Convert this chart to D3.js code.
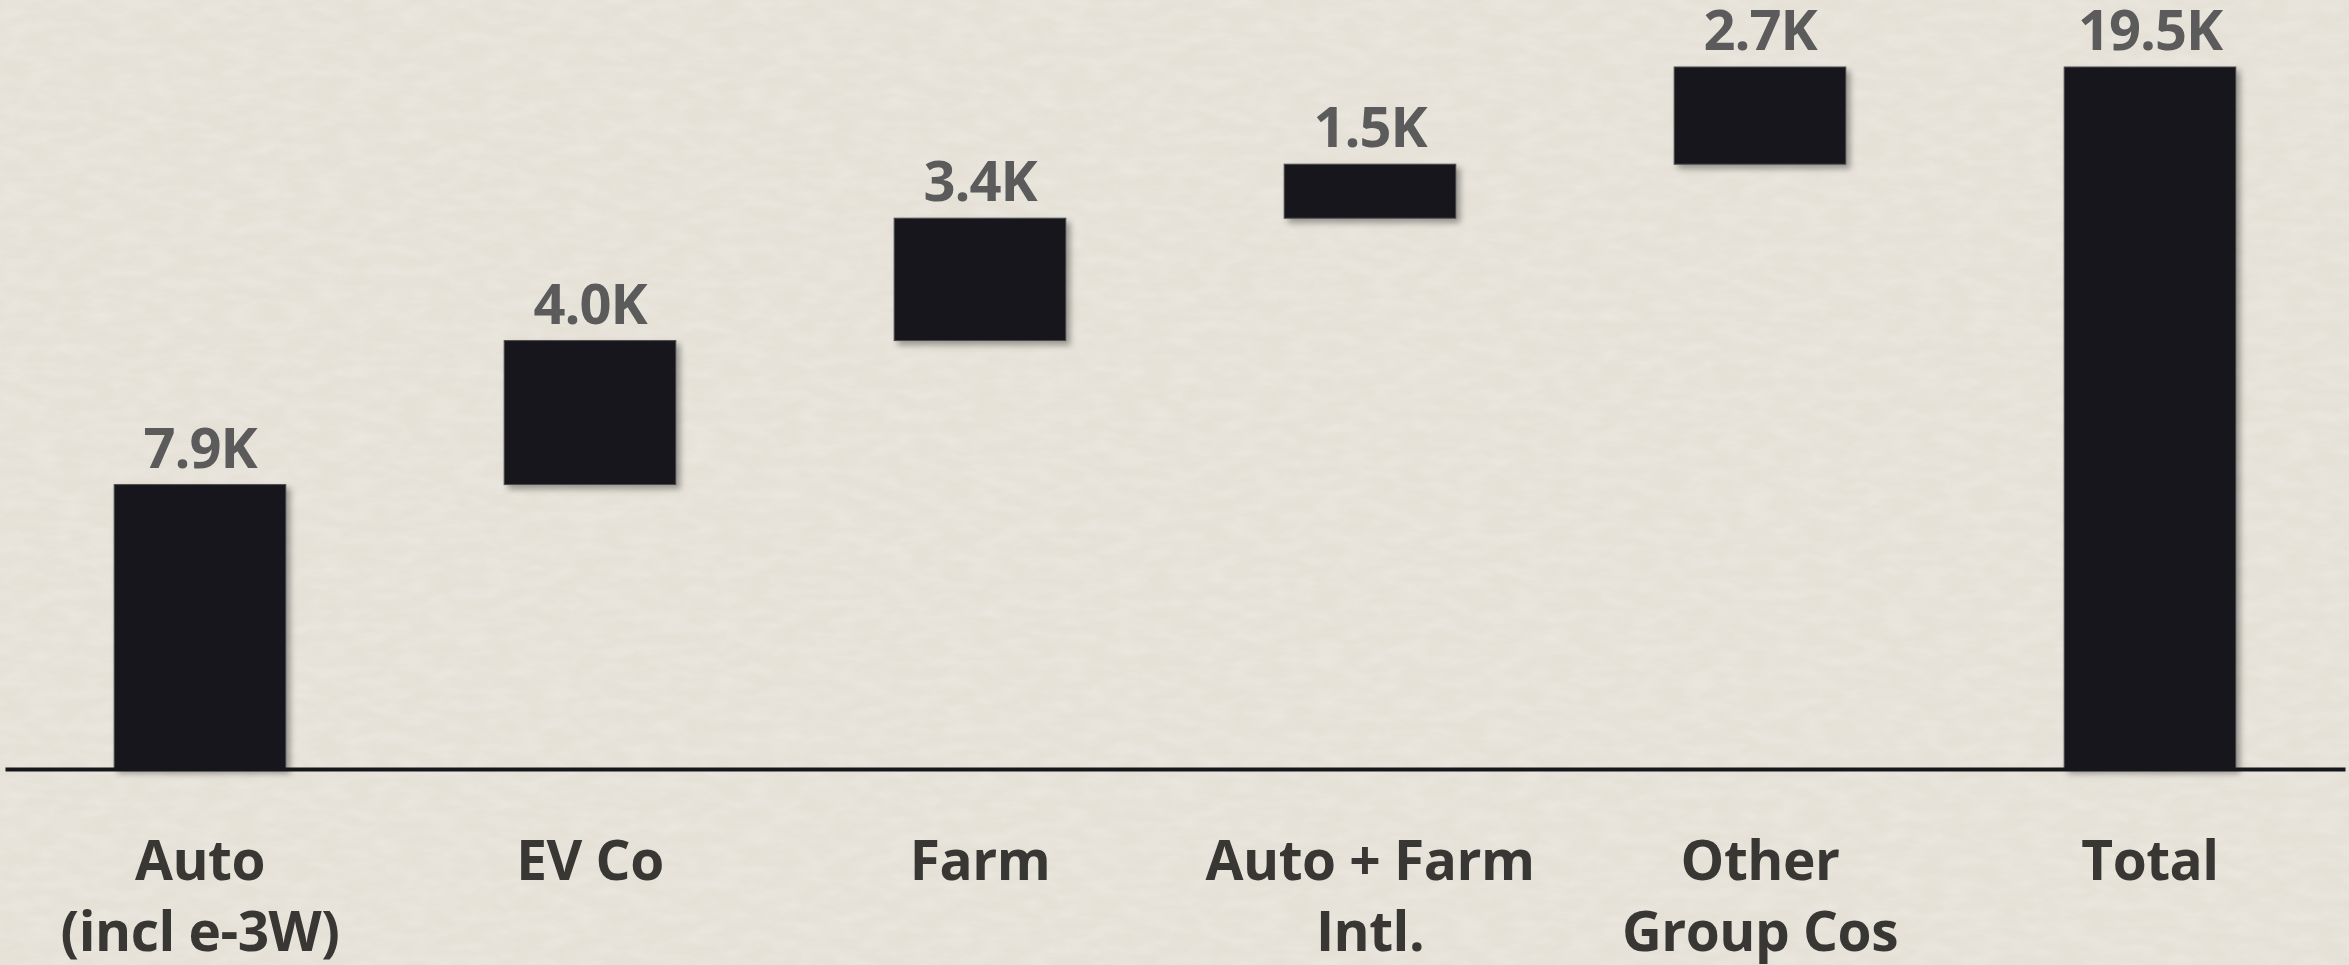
<!DOCTYPE html>
<html>
<head>
<meta charset="utf-8">
<script src="https://cdn.jsdelivr.net/npm/d3@7"></script>
<style>
  html, body { margin: 0; padding: 0; background: #e5e1d7; overflow: hidden; }
</style>
</head>
<body>
<div id="chart"></div>
<script>
// Waterfall data (thousands)
const categories = ["Auto\n(incl e-3W)", "EV Co", "Farm", "Auto + Farm\nIntl.", "Other\nGroup Cos", "Total"];
const values = [7.9, 4.0, 3.4, 1.5, 2.7, 19.5];
const isTotal = [false, false, false, false, false, true];
const valueLabels = ["7.9K", "4.0K", "3.4K", "1.5K", "2.7K", "19.5K"];

const width = 2349, height = 965;

// running start/end for each step
let run = 0;
const data = categories.map((c, i) => {
  let y0, y1;
  if (isTotal[i]) { y0 = 0; y1 = values[i]; }
  else { y0 = run; y1 = run + values[i]; run = y1; }
  return { cat: c, y0, y1, label: valueLabels[i] };
});

const svg = d3.select("#chart")
  .append("svg")
  .attr("width", width)
  .attr("height", height);

const defs = svg.append("defs");

// paper texture
const paper = defs.append("filter").attr("id", "paper")
  .attr("x", 0).attr("y", 0).attr("width", "100%").attr("height", "100%");
paper.append("feTurbulence")
  .attr("type", "fractalNoise").attr("baseFrequency", "0.035 0.09")
  .attr("numOctaves", 4).attr("seed", 3).attr("result", "noise");
paper.append("feColorMatrix")
  .attr("in", "noise").attr("type", "matrix")
  .attr("values", "0 0 0 0 1  0 0 0 0 1  0 0 0 0 1  0 0 0 0.35 -0.12");

// bar shadow
const shadow = defs.append("filter").attr("id", "shadow")
  .attr("x", "-10%").attr("y", "-10%").attr("width", "130%").attr("height", "130%");
shadow.append("feDropShadow")
  .attr("dx", 4).attr("dy", 4).attr("stdDeviation", 3)
  .attr("flood-color", "#000").attr("flood-opacity", 0.35);

svg.append("rect").attr("width", width).attr("height", height).attr("fill", "#e5e1d7");
svg.append("rect").attr("width", width).attr("height", height).attr("filter", "url(#paper)");

const x = d3.scaleBand()
  .domain(categories)
  .range([5, 2345])
  .paddingInner(0.56)
  .paddingOuter(0.28);

const y = d3.scaleLinear()
  .domain([0, 19.5])
  .range([769, 67]);

// bars
svg.append("g")
  .selectAll("rect")
  .data(data)
  .join("rect")
  .attr("x", d => x(d.cat))
  .attr("y", d => y(d.y1))
  .attr("width", x.bandwidth())
  .attr("height", d => y(d.y0) - y(d.y1))
  .attr("fill", "#16171b")
  .attr("stroke", "#4a4b4e")
  .attr("stroke-width", 1)
  .attr("filter", "url(#shadow)");

// baseline axis
const axis = svg.append("g")
  .attr("transform", `translate(0,${y(0)})`)
  .call(d3.axisBottom(x).tickSize(0).tickFormat(""));
axis.select(".domain")
  .attr("stroke", "#16171b")
  .attr("stroke-width", 4);

// value labels
svg.append("g")
  .selectAll("text")
  .data(data)
  .join("text")
  .attr("x", d => x(d.cat) + x.bandwidth() / 2)
  .attr("y", d => y(d.y1) - 17)
  .attr("text-anchor", "middle")
  .attr("font-family", "'Open Sans', sans-serif")
  .attr("font-weight", 700)
  .attr("font-size", 56)
  .attr("letter-spacing", -1)
  .attr("fill", "#5b5b5b")
  .text(d => d.label);

// category labels
const catText = svg.append("g")
  .selectAll("text")
  .data(data)
  .join("text")
  .attr("text-anchor", "middle")
  .attr("font-family", "'Open Sans', sans-serif")
  .attr("font-weight", 700)
  .attr("font-size", 55)
  .attr("letter-spacing", -0.5)
  .attr("fill", "#383734");

catText.selectAll("tspan")
  .data(d => d.cat.split("\n").map(t => ({ t, cx: x(d.cat) + x.bandwidth() / 2 })))
  .join("tspan")
  .attr("x", d => d.cx)
  .attr("y", (d, i) => 880 + i * 71)
  .text(d => d.t);
</script>
</body>
</html>
